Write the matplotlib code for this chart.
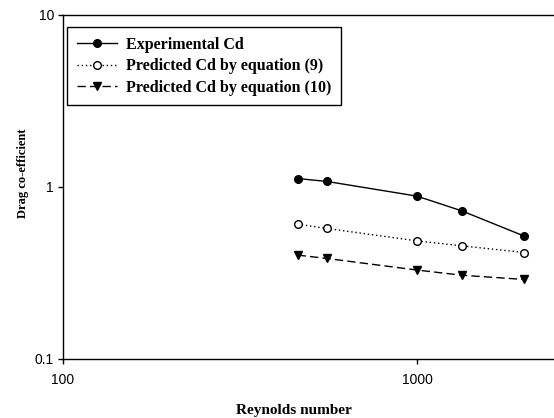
import numpy as np
import matplotlib
matplotlib.use("Agg")
import matplotlib.pyplot as plt
from matplotlib.ticker import FixedLocator, FixedFormatter, NullLocator

# dados
reynolds = [460, 557, 1000, 1337, 2010]
cd_experimental = [1.12, 1.077, 0.885, 0.727, 0.518]
cd_eq9 = [0.608, 0.574, 0.486, 0.455, 0.416]
cd_eq10 = [0.402, 0.384, 0.329, 0.307, 0.290]

x_ticks = [100, 1000]
x_tick_labels = ["100", "1000"]
y_ticks = [0.1, 1, 10]
y_tick_labels = ["0.1", "1", "10"]

serif = ["Liberation Serif", "DejaVu Serif"]
sans = ["Liberation Sans", "DejaVu Sans"]

fig = plt.figure(figsize=(5.54, 4.18), dpi=100)
# eixo ocupa ate a borda direita da imagem
ax = fig.add_axes([63/554, 1 - 359/418, (556-63)/554, (359-15)/418])

ax.plot(reynolds, cd_experimental, color="black", linestyle="-", linewidth=1,
        marker="o", markersize=5.5, markerfacecolor="black", label="Experimental Cd")
ax.plot(reynolds, cd_eq9, color="black", linestyle=(0, (1, 2)), linewidth=1,
        marker="o", markersize=5.5, markerfacecolor="white", label="Predicted Cd by equation (9)")
ax.plot(reynolds, cd_eq10, color="black", linestyle=(0, (6, 3)), linewidth=1,
        marker="v", markersize=5.5, markerfacecolor="black", label="Predicted Cd by equation (10)")

ax.set_xscale("log")
ax.set_yscale("log")
ax.set_xlim(100, 10 ** (2 + (556 - 63) / 354))
ax.set_ylim(0.1, 10)

ax.xaxis.set_major_locator(FixedLocator(x_ticks))
ax.xaxis.set_major_formatter(FixedFormatter(x_tick_labels))
ax.xaxis.set_minor_locator(NullLocator())
ax.yaxis.set_major_locator(FixedLocator(y_ticks))
ax.yaxis.set_major_formatter(FixedFormatter(y_tick_labels))
ax.yaxis.set_minor_locator(NullLocator())
ax.tick_params(direction="out", length=3.5, width=1, labelsize=10)
ax.tick_params(axis="x", pad=6.5)
ax.tick_params(axis="y", pad=3)
for lbl in ax.get_xticklabels() + ax.get_yticklabels():
    lbl.set_family(sans)

ax.spines["right"].set_visible(False)
for s in ["left", "bottom", "top"]:
    ax.spines[s].set_linewidth(1)

ax.set_xlabel("Reynolds number", fontfamily=serif, fontweight="bold", fontsize=11, labelpad=12)
ax.set_ylabel("Drag co-efficient", fontfamily=serif, fontweight="bold", fontsize=9, labelpad=4.5)
# os titulos dos eixos nao estao centralizados no original
ax.xaxis.label.set_x((293.5 - 63) / 493)
ax.yaxis.label.set_y((359 - 173.5) / 344)

leg = ax.legend(loc="upper left", bbox_to_anchor=(4/493, 1 - 12/344),
                prop={"family": serif, "weight": "bold", "size": 11.5},
                frameon=True, fancybox=False, edgecolor="black", framealpha=1,
                handlelength=2.5, handletextpad=0.6, borderpad=0.6, labelspacing=0.35,
                borderaxespad=0)
leg.get_frame().set_linewidth(1)

fig.savefig("out.png", dpi=100)
